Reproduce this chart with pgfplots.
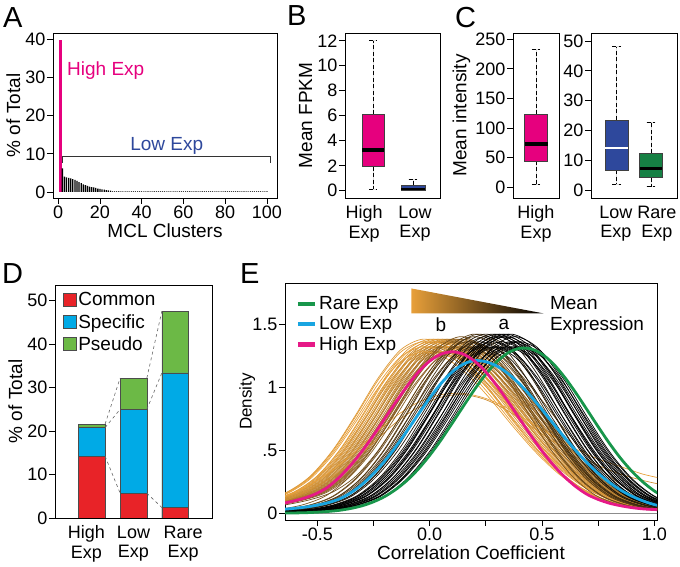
\documentclass[border=0pt]{standalone}
\usepackage{fontspec}
\setmainfont{Liberation Sans}
\usepackage{pgfplots}
\pgfplotsset{compat=1.18}
\usepackage{pgfplotstable}
\usepgfplotslibrary{statistics}

\definecolor{hiPink}{RGB}{230,0,126}
\definecolor{loNavy}{RGB}{46,72,156}
\definecolor{rareGreen}{RGB}{22,128,68}
\definecolor{dRed}{RGB}{232,35,40}
\definecolor{dCyan}{RGB}{0,170,230}
\definecolor{dGreen}{RGB}{108,185,70}
\definecolor{eGreen}{RGB}{24,150,75}
\definecolor{eCyan}{RGB}{25,165,225}
\definecolor{ePink}{RGB}{230,25,135}
\definecolor{orE}{RGB}{232,160,58}

\newcommand{\tf}{\fontsize{18}{20}\selectfont}
\newcommand{\lf}{\fontsize{19}{21}\selectfont}
\newcommand{\pf}{\fontsize{29}{30}\selectfont}

\pgfplotsset{
  panel/.style={
    scale only axis,
    axis line style={line width=0.8pt},
    tick align=outside, xtick pos=bottom, ytick pos=left,
    major tick length=6pt, minor tick length=6pt,
    tick style={line width=0.8pt, black},
    tick label style={font=\tf, inner sep=1.5pt},
    label style={font=\lf},
    /pgf/number format/assume math mode=true,
  },
  cats/.style={xtick style={draw=none},
    xticklabel style={align=center, font=\fontsize{18}{19.5}\selectfont}},
  bp/.style={
    boxplot/draw direction=y,
    boxplot/every whisker/.style={dash pattern=on 4pt off 2.5pt, line width=1pt, black},
    boxplot/every median/.style={line width=3.5pt, black},
    boxplot/every box/.style={line width=0.7pt}},
  dcurve/.style={smooth, line width=0.7pt},
}

% density curves of panel E: x columns (shifted grids) and y columns (shapes)
\pgfplotstableread{
m03 p00 p02 p04 p06 p08 p10 p12 p14 p17 p20 p22 p25 p28 p30 p32 p34 p36 p38 p40 Oa Ob Oc Od Ka Kb Kc Kd
-1.23 -1.20 -1.18 -1.16 -1.14 -1.12 -1.10 -1.08 -1.06 -1.03 -1.00 -0.98 -0.95 -0.92 -0.90 -0.88 -0.86 -0.84 -0.82 -0.80 .012 .012 .012 .012 .004 .004 .004 .004
-1.13 -1.10 -1.08 -1.06 -1.04 -1.02 -1.00 -0.98 -0.96 -0.93 -0.90 -0.88 -0.85 -0.82 -0.80 -0.78 -0.76 -0.74 -0.72 -0.70 .018 .018 .019 .019 .007 .007 .007 .007
-1.03 -1.00 -0.98 -0.96 -0.94 -0.92 -0.90 -0.88 -0.86 -0.83 -0.80 -0.78 -0.75 -0.72 -0.70 -0.68 -0.66 -0.64 -0.62 -0.60 .028 .029 .030 .030 .011 .011 .011 .011
-0.93 -0.90 -0.88 -0.86 -0.84 -0.82 -0.80 -0.78 -0.76 -0.73 -0.70 -0.68 -0.65 -0.62 -0.60 -0.58 -0.56 -0.54 -0.52 -0.50 .044 .045 .046 .047 .017 .018 .018 .018
-0.83 -0.80 -0.78 -0.76 -0.74 -0.72 -0.70 -0.68 -0.66 -0.63 -0.60 -0.58 -0.55 -0.52 -0.50 -0.48 -0.46 -0.44 -0.42 -0.40 .067 .069 .071 .072 .032 .033 .034 .034
-0.73 -0.70 -0.68 -0.66 -0.64 -0.62 -0.60 -0.58 -0.56 -0.53 -0.50 -0.48 -0.45 -0.42 -0.40 -0.38 -0.36 -0.34 -0.32 -0.30 .102 .106 .109 .110 .066 .068 .070 .071
-0.63 -0.60 -0.58 -0.56 -0.54 -0.52 -0.50 -0.48 -0.46 -0.43 -0.40 -0.38 -0.35 -0.32 -0.30 -0.28 -0.26 -0.24 -0.22 -0.20 .160 .165 .170 .173 .133 .137 .141 .143
-0.53 -0.50 -0.48 -0.46 -0.44 -0.42 -0.40 -0.38 -0.36 -0.33 -0.30 -0.28 -0.25 -0.22 -0.20 -0.18 -0.16 -0.14 -0.12 -0.10 .275 .284 .292 .297 .268 .276 .284 .288
-0.43 -0.40 -0.38 -0.36 -0.34 -0.32 -0.30 -0.28 -0.26 -0.23 -0.20 -0.18 -0.15 -0.12 -0.10 -0.08 -0.06 -0.04 -0.02 0.00 .467 .482 .496 .504 .475 .490 .504 .511
-0.33 -0.30 -0.28 -0.26 -0.24 -0.22 -0.20 -0.18 -0.16 -0.13 -0.10 -0.08 -0.05 -0.02 0.00 0.02 0.04 0.06 0.08 0.10 .721 .743 .766 .777 .743 .766 .788 .799
-0.23 -0.20 -0.18 -0.16 -0.14 -0.12 -0.10 -0.08 -0.06 -0.03 0.00 0.02 0.05 0.08 0.10 0.12 0.14 0.16 0.18 0.20 .992 1.023 1.054 1.070 1.023 1.054 1.085 1.101
-0.13 -0.10 -0.08 -0.06 -0.04 -0.02 0.00 0.02 0.04 0.07 0.10 0.12 0.15 0.18 0.20 0.22 0.24 0.26 0.28 0.30 1.201 1.238 1.276 1.294 1.238 1.276 1.313 1.332
-0.03 0.00 0.02 0.04 0.06 0.08 0.10 0.12 0.14 0.17 0.20 0.22 0.25 0.28 0.30 0.32 0.34 0.36 0.38 0.40 1.280 1.320 1.360 1.380 1.320 1.360 1.400 1.420
0.07 0.10 0.12 0.14 0.16 0.18 0.20 0.22 0.24 0.27 0.30 0.32 0.35 0.38 0.40 0.42 0.44 0.46 0.48 0.50 1.231 1.270 1.308 1.328 1.238 1.276 1.313 1.332
0.17 0.20 0.22 0.24 0.26 0.28 0.30 0.32 0.34 0.37 0.40 0.42 0.45 0.48 0.50 0.52 0.54 0.56 0.58 0.60 1.097 1.131 1.166 1.183 1.023 1.054 1.085 1.101
0.27 0.30 0.32 0.34 0.36 0.38 0.40 0.42 0.44 0.47 0.50 0.52 0.55 0.58 0.60 0.62 0.64 0.66 0.68 0.70 .905 .933 .962 .976 .743 .766 .788 .799
0.37 0.40 0.42 0.44 0.46 0.48 0.50 0.52 0.54 0.57 0.60 0.62 0.65 0.68 0.70 0.72 0.74 0.76 0.78 0.80 .690 .711 .733 .744 .475 .490 .504 .511
0.47 0.50 0.52 0.54 0.56 0.58 0.60 0.62 0.64 0.67 0.70 0.72 0.75 0.78 0.80 0.82 0.84 0.86 0.88 0.90 .488 .503 .518 .526 .268 .276 .284 .288
0.57 0.60 0.62 0.64 0.66 0.68 0.70 0.72 0.74 0.77 0.80 0.82 0.85 0.88 0.90 0.92 0.94 0.96 0.98 1.00 .319 .329 .339 .344 .133 .137 .141 .143
0.67 0.70 0.72 0.74 0.76 0.78 0.80 0.82 0.84 0.87 0.90 0.92 0.95 0.98 1.00 1.02 1.04 1.06 1.08 1.10 .193 .199 .205 .208 .066 .068 .070 .071
0.77 0.80 0.82 0.84 0.86 0.88 0.90 0.92 0.94 0.97 1.00 1.02 1.05 1.08 1.10 1.12 1.14 1.16 1.18 1.20 .109 .112 .116 .117 .032 .033 .034 .034
0.87 0.90 0.92 0.94 0.96 0.98 1.00 1.02 1.04 1.07 1.10 1.12 1.15 1.18 1.20 1.22 1.24 1.26 1.28 1.30 .059 .061 .063 .063 .017 .018 .018 .018
0.97 1.00 1.02 1.04 1.06 1.08 1.10 1.12 1.14 1.17 1.20 1.22 1.25 1.28 1.30 1.32 1.34 1.36 1.38 1.40 .032 .033 .034 .035 .011 .011 .011 .011
1.07 1.10 1.12 1.14 1.16 1.18 1.20 1.22 1.24 1.27 1.30 1.32 1.35 1.38 1.40 1.42 1.44 1.46 1.48 1.50 .019 .020 .020 .021 .007 .007 .007 .007
1.17 1.20 1.22 1.24 1.26 1.28 1.30 1.32 1.34 1.37 1.40 1.42 1.45 1.48 1.50 1.52 1.54 1.56 1.58 1.60 .012 .012 .012 .012 .004 .004 .004 .004
}\Edens

\begin{document}
\begin{tikzpicture}[x=1pt,y=1pt]
\useasboundingbox (0,0) rectangle (680,567);

% ---------------- A ----------------
\begin{axis}[panel, at={(53pt,369pt)}, anchor=south west, width=224pt, height=165pt,
  xmin=-2.5, xmax=104.8, ymin=-1.57, ymax=41.65,
  xtick={0,20,...,100}, ytick={0,10,...,40},
  xlabel={MCL Clusters}, ylabel={\% of Total}]
\addplot[ybar, bar width=1.4, fill=hiPink, draw=none] coordinates {(1,39.8)};
\addplot[ybar, bar width=0.62, fill=black, draw=none] coordinates {
 (2,6.2) (3,4.0) (4,3.8) (5,3.7) (6,3.6) (7,3.4) (8,3.2) (9,2.9) (10,2.6) (11,2.3)
 (12,2.0) (13,1.8) (14,1.6) (15,1.4) (16,1.3) (17,1.2) (18,1.1) (19,0.9) (20,0.8)
 (21,0.7) (22,0.6) (23,0.5) (24,0.4) (25,0.35)};
\addplot[ybar, bar width=0.5, fill=black!75, draw=none] coordinates {
 (26,0.25) (27,0.25) (28,0.25) (29,0.25) (30,0.25) (31,0.2) (32,0.2) (33,0.2) (34,0.2) (35,0.2)
 (36,0.2) (37,0.2) (38,0.2) (39,0.2) (40,0.2) (41,0.2) (42,0.2) (43,0.2) (44,0.2) (45,0.2)
 (46,0.2) (47,0.2) (48,0.2) (49,0.2) (50,0.2) (51,0.2) (52,0.2) (53,0.2) (54,0.2) (55,0.2)
 (56,0.2) (57,0.2) (58,0.2) (59,0.2) (60,0.2) (61,0.2) (62,0.2) (63,0.2) (64,0.2) (65,0.2)
 (66,0.2) (67,0.2) (68,0.2) (69,0.2) (70,0.2) (71,0.2) (72,0.2) (73,0.2) (74,0.2) (75,0.2)
 (76,0.2) (77,0.2) (78,0.2) (79,0.2) (80,0.2) (81,0.2) (82,0.2) (83,0.2) (84,0.2) (85,0.2)
 (86,0.2) (87,0.2) (88,0.2) (89,0.2) (90,0.2) (91,0.2) (92,0.2) (93,0.2) (94,0.2) (95,0.2)
 (96,0.2) (97,0.2) (98,0.2) (99,0.2) (100,0.2)};
\draw[line width=0.8pt, black!80] (axis cs:2.2,7.7) -- (axis cs:2.2,9.4) -- (axis cs:101.5,9.4) -- (axis cs:101.5,7.7);
\node[hiPink, anchor=base west, font=\lf, inner sep=0] at (axis cs:4.2,30.6) {High Exp};
\node[loNavy, anchor=base, font=\lf, inner sep=0] at (axis cs:52,11.0) {Low Exp};
\end{axis}

% ---------------- B ----------------
\begin{axis}[panel, bp, cats, at={(345pt,369pt)}, anchor=south west, width=95pt, height=165pt,
  xmin=0.3, xmax=2.675, ymin=-0.58, ymax=12.62,
  ytick={0,2,...,12}, xtick={0.78,2.05}, xticklabels={High\\Exp,Low\\Exp},
  ylabel={Mean FPKM}]
\addplot[boxplot prepared={lower whisker=0.1, lower quartile=1.92, median=3.26,
  upper quartile=6.1, upper whisker=12, draw position=1, box extend=0.55, whisker extend=0.18},
  fill=hiPink, draw=black!75] coordinates {};
\addplot[boxplot prepared={lower whisker=0.0, lower quartile=0.02, median=0.12,
  upper quartile=0.42, upper whisker=0.86, draw position=2, box extend=0.6, whisker extend=0.22},
  fill=loNavy, draw=black!75, boxplot/every median/.style={line width=1.8pt, black}] coordinates {};
\end{axis}

% ---------------- C left ----------------
\begin{axis}[panel, bp, cats, at={(513pt,369pt)}, anchor=south west, width=46pt, height=165pt,
  xmin=0.5, xmax=1.5, ymin=-18.1, ymax=260.6,
  ytick={0,50,...,250}, xtick={1}, xticklabels={High\\Exp},
  ylabel={Mean intensity}]
\addplot[boxplot prepared={lower whisker=3.9, lower quartile=44.4, median=73,
  upper quartile=123, upper whisker=232, draw position=1, box extend=0.5, whisker extend=0.18},
  fill=hiPink, draw=black!75] coordinates {};
\end{axis}

% ---------------- C right ----------------
\begin{axis}[panel, bp, cats, at={(591pt,369pt)}, anchor=south west, width=86pt, height=165pt,
  xmin=0.26, xmax=2.754, ymin=-2.68, ymax=52.7,
  ytick={0,10,...,50}, xtick={0.98,2.17}, xticklabels={Low\\Exp,Rare\\Exp}]
\addplot[boxplot prepared={lower whisker=1.9, lower quartile=6.7, median=14.1,
  upper quartile=23.5, upper whisker=48, draw position=1, box extend=0.66, whisker extend=0.26},
  fill=loNavy, draw=black!75, boxplot/every median/.style={line width=2.5pt, white}] coordinates {};
\addplot[boxplot prepared={lower whisker=1.1, lower quartile=4.1, median=7.3,
  upper quartile=12.3, upper whisker=22.7, draw position=2, box extend=0.66, whisker extend=0.26},
  fill=rareGreen, draw=black!75] coordinates {};
\end{axis}

% ---------------- D ----------------
\begin{axis}[panel, cats, at={(55pt,49pt)}, anchor=south west, width=157pt, height=233pt,
  xmin=0.12, xmax=3.88, ymin=0, ymax=53.6,
  xtick={0.87,2,3.19}, xticklabels={High\\Exp,Low\\Exp,Rare\\Exp},
  ytick={0,10,...,50}, ylabel={\% of Total},
  legend cell align=left,
  legend style={at={(0.03,0.985)}, anchor=north west, draw=none, fill=none, font=\lf, row sep=3pt}]
% cumulative heights: common+specific+pseudo, common+specific, common
\addplot[forget plot, ybar, bar width=0.64, bar shift=0pt, fill=dGreen, draw=black!70]
  coordinates {(1,21.6) (2,32.2) (3,47.6)};
\addplot[forget plot, ybar, bar width=0.64, bar shift=0pt, fill=dCyan, draw=black!70]
  coordinates {(1,20.8) (2,25.0) (3,33.4)};
\addplot[forget plot, ybar, bar width=0.64, bar shift=0pt, fill=dRed, draw=black!70]
  coordinates {(1,14.2) (2,5.7) (3,2.4)};
\addplot[forget plot, dashed, black!60, line width=0.6pt] coordinates {(1.32,14.2) (1.68,5.7)};
\addplot[forget plot, dashed, black!60, line width=0.6pt] coordinates {(1.32,20.8) (1.68,25.0)};
\addplot[forget plot, dashed, black!60, line width=0.6pt] coordinates {(1.32,21.6) (1.68,32.2)};
\addplot[forget plot, dashed, black!60, line width=0.6pt] coordinates {(2.32,5.7) (2.68,2.4)};
\addplot[forget plot, dashed, black!60, line width=0.6pt] coordinates {(2.32,25.0) (2.68,33.4)};
\addplot[forget plot, dashed, black!60, line width=0.6pt] coordinates {(2.32,32.2) (2.68,47.6)};
\addlegendimage{legend image code/.code={\draw[fill=dRed, draw=black!70] (0pt,-6pt) rectangle (13pt,7pt);}}
\addlegendentry{Common}
\addlegendimage{legend image code/.code={\draw[fill=dCyan, draw=black!70] (0pt,-6pt) rectangle (13pt,7pt);}}
\addlegendentry{Specific}
\addlegendimage{legend image code/.code={\draw[fill=dGreen, draw=black!70] (0pt,-6pt) rectangle (13pt,7pt);}}
\addlegendentry{Pseudo}
\end{axis}

% ---------------- E ----------------
\begin{axis}[panel, at={(285pt,47pt)}, anchor=south west, width=372pt, height=237pt,
  xmin=-0.644, xmax=1.012, ymin=-0.053, ymax=1.825,
  xtick={-0.5,0,0.5,1}, xticklabels={-0.5,0.0,0.5,1.0},
  minor xtick={-0.25,0.25,0.75},
  ytick={0,0.5,1,1.5}, yticklabels={0,.5,1,1.5},
  xlabel={Correlation Coefficient}, ylabel={Density}, ylabel shift=-8pt,
  ylabel style={font=\fontsize{17}{19}\selectfont},
  legend cell align=left,
  legend image post style={line width=4.5pt},
  legend style={at={(0.02,0.96)}, anchor=north west, draw=none, fill=none, font=\lf, row sep=1.5pt}]
\addplot[forget plot, black!45, line width=0.6pt] coordinates {(-0.7,0) (1.1,0)};
% orange curves (low mean expression)
\addplot[forget plot, dcurve, orE!94!black] table[x=p00,y=Oa]{\Edens};
\addplot[forget plot, dcurve, orE!93!black] table[x=p00,y=Ob]{\Edens};
\addplot[forget plot, dcurve, orE!90!black] table[x=p02,y=Oa]{\Edens};
\addplot[forget plot, dcurve, orE!92!black] table[x=p02,y=Ob]{\Edens};
\addplot[forget plot, dcurve, orE!89!black] table[x=p02,y=Oc]{\Edens};
\addplot[forget plot, dcurve, orE!86!black] table[x=p04,y=Oa]{\Edens};
\addplot[forget plot, dcurve, orE!87!black] table[x=p04,y=Ob]{\Edens};
\addplot[forget plot, dcurve, orE!88!black] table[x=p04,y=Od]{\Edens};
\addplot[forget plot, dcurve, orE!82!black] table[x=p06,y=Oa]{\Edens};
\addplot[forget plot, dcurve, orE!84!black] table[x=p06,y=Ob]{\Edens};
\addplot[forget plot, dcurve, orE!83!black] table[x=p06,y=Oc]{\Edens};
\addplot[forget plot, dcurve, orE!85!black] table[x=p06,y=Od]{\Edens};
\addplot[forget plot, dcurve, orE!76!black] table[x=p08,y=Oa]{\Edens};
\addplot[forget plot, dcurve, orE!77!black] table[x=p08,y=Ob]{\Edens};
\addplot[forget plot, dcurve, orE!78!black] table[x=p08,y=Oc]{\Edens};
\addplot[forget plot, dcurve, orE!80!black] table[x=p08,y=Od]{\Edens};
\addplot[forget plot, dcurve, orE!70!black] table[x=p10,y=Oa]{\Edens};
\addplot[forget plot, dcurve, orE!72!black] table[x=p10,y=Ob]{\Edens};
\addplot[forget plot, dcurve, orE!71!black] table[x=p10,y=Oc]{\Edens};
\addplot[forget plot, dcurve, orE!74!black] table[x=p10,y=Od]{\Edens};
\addplot[forget plot, dcurve, orE!62!black] table[x=p12,y=Oa]{\Edens};
\addplot[forget plot, dcurve, orE!63!black] table[x=p12,y=Ob]{\Edens};
\addplot[forget plot, dcurve, orE!64!black] table[x=p12,y=Oc]{\Edens};
\addplot[forget plot, dcurve, orE!66!black] table[x=p12,y=Od]{\Edens};
\addplot[forget plot, dcurve, orE] table[x=m03,y=Oa]{\Edens};
\addplot[forget plot, dcurve, orE] table[x=m03,y=Ob]{\Edens};
\addplot[forget plot, dcurve, orE!98!black] table[x=m03,y=Oc]{\Edens};
\addplot[forget plot, dcurve, orE!96!black] table[x=m03,y=Od]{\Edens};
\addplot[forget plot, dcurve, orE] table[x=p00,y=Oc]{\Edens};
\addplot[forget plot, dcurve, orE!97!black] table[x=p00,y=Od]{\Edens};
\addplot[forget plot, dcurve, orE!95!black] table[x=p02,y=Od]{\Edens};
\addplot[forget plot, dcurve, orE!90!black] table[x=p04,y=Oc]{\Edens};
\addplot[forget plot, dcurve, orE] coordinates {(-0.75,0.08) (-0.65,0.13) (-0.55,0.21) (-0.45,0.32) (-0.35,0.46)
  (-0.25,0.62) (-0.15,0.77) (-0.05,0.88) (0.05,0.94) (0.15,0.95) (0.25,0.91) (0.35,0.83)
  (0.45,0.72) (0.55,0.61) (0.65,0.51) (0.75,0.43) (0.85,0.37) (0.95,0.31) (1.05,0.27)};
\addplot[forget plot, dcurve, orE!90!black] coordinates {(-0.75,0.06) (-0.65,0.10) (-0.55,0.17) (-0.45,0.27) (-0.35,0.40)
  (-0.25,0.56) (-0.15,0.72) (-0.05,0.84) (0.05,0.92) (0.15,0.94) (0.25,0.90) (0.35,0.81)
  (0.45,0.69) (0.55,0.57) (0.65,0.47) (0.75,0.38) (0.85,0.31) (0.95,0.26) (1.05,0.22)};
% brown, transition
\addplot[forget plot, dcurve, orE!56!black] table[x=p14,y=Ob]{\Edens};
\addplot[forget plot, dcurve, orE!52!black] table[x=p14,y=Kc]{\Edens};
\addplot[forget plot, dcurve, orE!58!black] table[x=p14,y=Od]{\Edens};
\addplot[forget plot, dcurve, orE!48!black] table[x=p17,y=Oc]{\Edens};
\addplot[forget plot, dcurve, orE!44!black] table[x=p17,y=Kb]{\Edens};
\addplot[forget plot, dcurve, orE!46!black] table[x=p17,y=Ka]{\Edens};
\addplot[forget plot, dcurve, orE!38!black] table[x=p20,y=Kc]{\Edens};
\addplot[forget plot, dcurve, orE!34!black] table[x=p20,y=Ka]{\Edens};
\addplot[forget plot, dcurve, orE!36!black] table[x=p20,y=Kd]{\Edens};
\addplot[forget plot, dcurve, orE!28!black] table[x=p22,y=Kd]{\Edens};
\addplot[forget plot, dcurve, orE!24!black] table[x=p22,y=Kb]{\Edens};
\addplot[forget plot, dcurve, orE!26!black] table[x=p22,y=Ka]{\Edens};
% black curves (high mean expression)
\addplot[forget plot, dcurve, orE!18!black] table[x=p25,y=Kc]{\Edens};
\addplot[forget plot, dcurve, orE!14!black] table[x=p25,y=Ka]{\Edens};
\addplot[forget plot, dcurve, orE!16!black] table[x=p25,y=Kd]{\Edens};
\addplot[forget plot, dcurve, orE!10!black] table[x=p28,y=Kd]{\Edens};
\addplot[forget plot, dcurve, black] table[x=p28,y=Kb]{\Edens};
\addplot[forget plot, dcurve, black] table[x=p28,y=Ka]{\Edens};
\addplot[forget plot, dcurve, black] table[x=p30,y=Kc]{\Edens};
\addplot[forget plot, dcurve, black] table[x=p30,y=Ka]{\Edens};
\addplot[forget plot, dcurve, black] table[x=p30,y=Kd]{\Edens};
\addplot[forget plot, dcurve, black] table[x=p32,y=Kd]{\Edens};
\addplot[forget plot, dcurve, black] table[x=p32,y=Kb]{\Edens};
\addplot[forget plot, dcurve, black] table[x=p32,y=Kc]{\Edens};
\addplot[forget plot, dcurve, black] table[x=p34,y=Kc]{\Edens};
\addplot[forget plot, dcurve, black] table[x=p34,y=Ka]{\Edens};
\addplot[forget plot, dcurve, black] table[x=p34,y=Kd]{\Edens};
\addplot[forget plot, dcurve, black] table[x=p36,y=Kd]{\Edens};
\addplot[forget plot, dcurve, black] table[x=p36,y=Kb]{\Edens};
\addplot[forget plot, dcurve, black] table[x=p36,y=Ka]{\Edens};
\addplot[forget plot, dcurve, black] table[x=p38,y=Kc]{\Edens};
\addplot[forget plot, dcurve, black] table[x=p38,y=Ka]{\Edens};
\addplot[forget plot, dcurve, black] table[x=p38,y=Kb]{\Edens};
\addplot[forget plot, dcurve, black] table[x=p40,y=Kb]{\Edens};
\addplot[forget plot, dcurve, black] table[x=p40,y=Ka]{\Edens};
% group means
\addplot[smooth, eGreen, line width=2.8pt] coordinates {
 (-0.70,0.001) (-0.65,0.002) (-0.60,0.003) (-0.55,0.005) (-0.50,0.009) (-0.45,0.015) (-0.40,0.024)
 (-0.35,0.039) (-0.30,0.060) (-0.25,0.091) (-0.20,0.133) (-0.15,0.190) (-0.10,0.262) (-0.05,0.352)
 (0.00,0.459) (0.05,0.580) (0.10,0.713) (0.15,0.849) (0.20,0.982) (0.25,1.103) (0.30,1.203)
 (0.35,1.273) (0.40,1.307) (0.45,1.303) (0.50,1.261) (0.55,1.185) (0.60,1.080) (0.65,0.956)
 (0.70,0.822) (0.75,0.686) (0.80,0.555) (0.85,0.436) (0.90,0.333) (0.95,0.247) (1.00,0.177) (1.05,0.124)};
\addlegendentry{Rare Exp}
\addplot[smooth, eCyan, line width=2.8pt] coordinates {
 (-0.70,0.028) (-0.65,0.032) (-0.60,0.040) (-0.55,0.050) (-0.50,0.065) (-0.45,0.085) (-0.40,0.115)
 (-0.35,0.164) (-0.30,0.230) (-0.25,0.314) (-0.20,0.414) (-0.15,0.529) (-0.10,0.655) (-0.05,0.786)
 (0.00,0.913) (0.05,1.028) (0.10,1.120) (0.15,1.182) (0.20,1.210) (0.25,1.201) (0.30,1.166)
 (0.35,1.106) (0.40,1.025) (0.45,0.929) (0.50,0.822) (0.55,0.711) (0.60,0.602) (0.65,0.498)
 (0.70,0.402) (0.75,0.317) (0.80,0.245) (0.85,0.184) (0.90,0.136) (0.95,0.098) (1.00,0.069) (1.05,0.048)};
\addlegendentry{Low Exp}
\addplot[smooth, ePink, line width=2.8pt] coordinates {
 (-0.70,0.065) (-0.65,0.080) (-0.60,0.100) (-0.55,0.125) (-0.50,0.160) (-0.45,0.212) (-0.40,0.290)
 (-0.35,0.384) (-0.30,0.494) (-0.25,0.618) (-0.20,0.750) (-0.15,0.883) (-0.10,1.009) (-0.05,1.120)
 (0.00,1.206) (0.05,1.261) (0.10,1.280) (0.15,1.261) (0.20,1.206) (0.25,1.120) (0.30,1.009)
 (0.35,0.883) (0.40,0.750) (0.45,0.618) (0.50,0.494) (0.55,0.384) (0.60,0.290) (0.65,0.212)
 (0.70,0.151) (0.75,0.110) (0.80,0.080) (0.85,0.060) (0.90,0.045) (0.95,0.035) (1.00,0.030) (1.05,0.026)};
\addlegendentry{High Exp}
\shade[left color=orE, right color=black] (axis cs:-0.082,1.782) -- (axis cs:-0.082,1.584) -- (axis cs:0.507,1.584) -- cycle;
\node[anchor=north west, font=\lf, inner sep=0] at (axis cs:0.535,1.72) {Mean};
\node[anchor=north west, font=\lf, inner sep=0] at (axis cs:0.535,1.56) {Expression};
\node[anchor=base, font=\lf, inner sep=0] at (axis cs:0.05,1.44) {b};
\node[anchor=base, font=\lf, inner sep=0] at (axis cs:0.33,1.455) {a};
\end{axis}

% panel letters
\node[anchor=north west, inner sep=0, font=\pf] at (3pt,560pt) {A};
\node[anchor=north west, inner sep=0, font=\pf] at (287pt,562pt) {B};
\node[anchor=north west, inner sep=0, font=\pf] at (455pt,560pt) {C};
\node[anchor=north west, inner sep=0, font=\pf] at (2pt,304pt) {D};
\node[anchor=north west, inner sep=0, font=\pf] at (240pt,304pt) {E};
\end{tikzpicture}
\end{document}
